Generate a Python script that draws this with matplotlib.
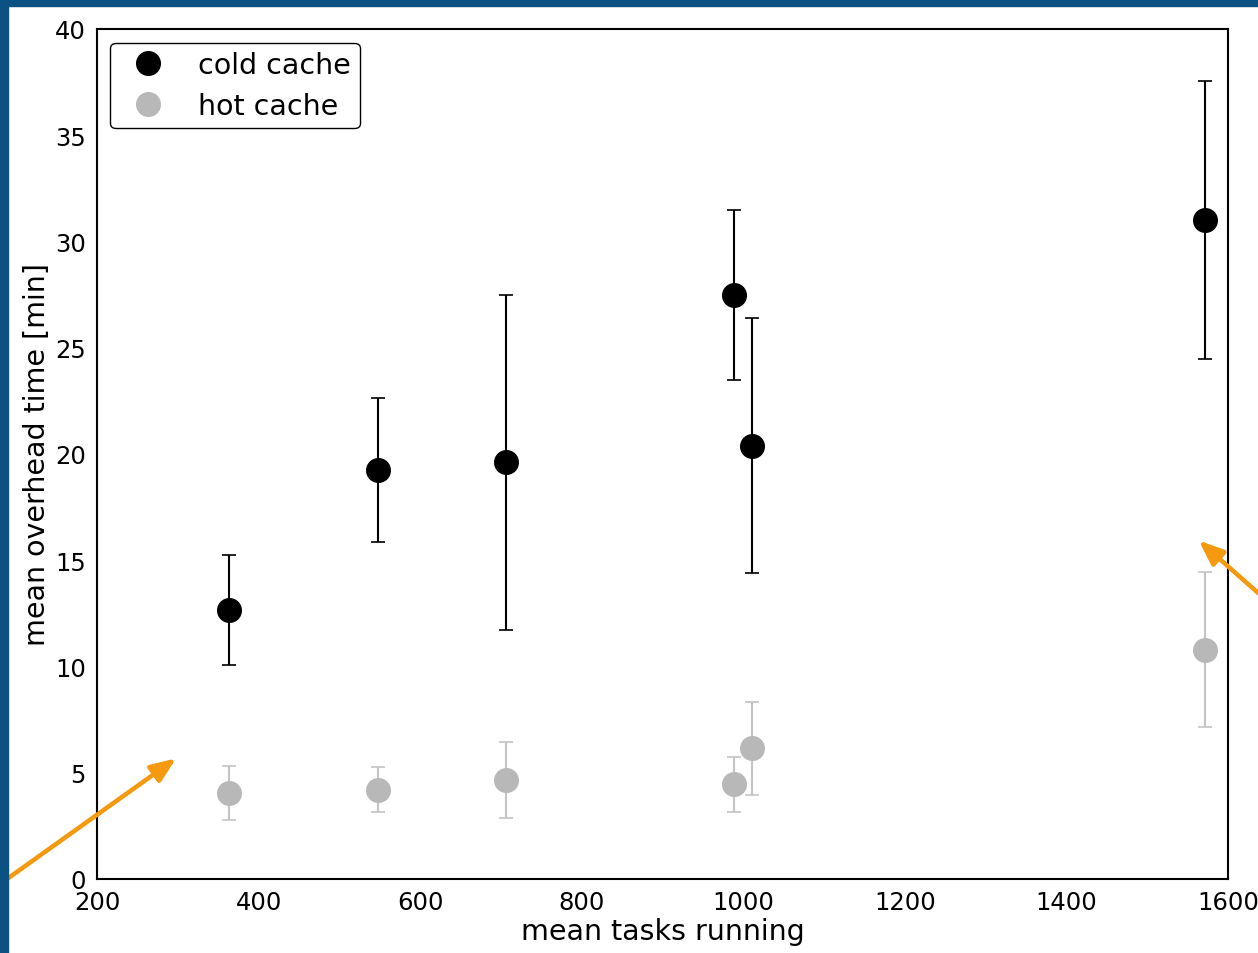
import numpy as np
import matplotlib
matplotlib.use("Agg")
import matplotlib.pyplot as plt
from matplotlib.patches import Rectangle
from matplotlib.lines import Line2D

# datos
tareas = [363, 548, 706, 988, 1011, 1571]
frio = [12.65, 19.25, 19.6, 27.5, 20.4, 31.0]
frio_err = [2.6, 3.4, 7.9, 4.0, 6.0, 6.55]
caliente = [4.05, 4.2, 4.65, 4.45, 6.15, 10.8]
caliente_err = [1.25, 1.05, 1.8, 1.3, 2.2, 3.65]

W, H = 1258, 954
fig = plt.figure(figsize=(W / 100, H / 100), dpi=100)
fig.patch.set_facecolor("white")

ax = fig.add_axes([97 / W, 1 - 880 / H, (1228 - 97) / W, (880 - 30) / H])

ax.errorbar(tareas, frio, yerr=frio_err, fmt="o", color="black", ecolor="black",
            markersize=17, elinewidth=1.5, capsize=5, capthick=1.2, label="cold cache")
ax.errorbar(tareas, caliente, yerr=caliente_err, fmt="o", color="#b8b8b8", ecolor="#c4c4c4",
            markersize=17, elinewidth=1.5, capsize=5, capthick=1.2, label="hot cache")

ax.set_xlim(200, 1600)
ax.set_ylim(0, 40)
ax.set_xticks(np.arange(200, 1601, 200))
ax.set_yticks(np.arange(0, 41, 5))
ax.tick_params(length=0, labelsize=17.5, pad=8)
for s in ax.spines.values():
    s.set_linewidth(1.5)
ax.set_xlabel("mean tasks running", fontsize=20.5, labelpad=2)
ax.set_ylabel("mean overhead time [min]", fontsize=20.5, labelpad=3)

# leyenda solo con marcadores
handles = [Line2D([], [], marker="o", ls="", color="black", markersize=17),
           Line2D([], [], marker="o", ls="", color="#b8b8b8", markersize=17)]
leg = ax.legend(handles, ["cold cache", "hot cache"], loc="upper left", fontsize=20.5,
                numpoints=1, handlelength=2.1, handletextpad=0.7, borderpad=0.3,
                labelspacing=0.45, bbox_to_anchor=(0.0115, 0.984), borderaxespad=0,
                fancybox=True, framealpha=1)
leg.get_frame().set_edgecolor("black")
leg.get_frame().set_linewidth(1.0)

# borde azul de la diapositiva
azul = "#0b5282"
fig.add_artist(Rectangle((0, 0), 8 / W, 1, transform=fig.transFigure, color=azul, zorder=10))
fig.add_artist(Rectangle((0, 1 - 7 / H), 1, 7 / H, transform=fig.transFigure, color=azul, zorder=10))

# flechas naranjas
naranja = "#f59a0f"
flecha = dict(arrowstyle="-|>,head_length=1.5,head_width=0.6", color=naranja, lw=3)
fig.add_artist(plt.annotate("", xy=(178 / W, 1 - 758 / H), xytext=(0, 1 - 885 / H),
                            xycoords="figure fraction", textcoords="figure fraction",
                            arrowprops=flecha))
fig.add_artist(plt.annotate("", xy=(1197 / W, 1 - 540 / H), xytext=(1265 / W, 1 - 600 / H),
                            xycoords="figure fraction", textcoords="figure fraction",
                            arrowprops=flecha))

fig.savefig("out.png", dpi=100)
